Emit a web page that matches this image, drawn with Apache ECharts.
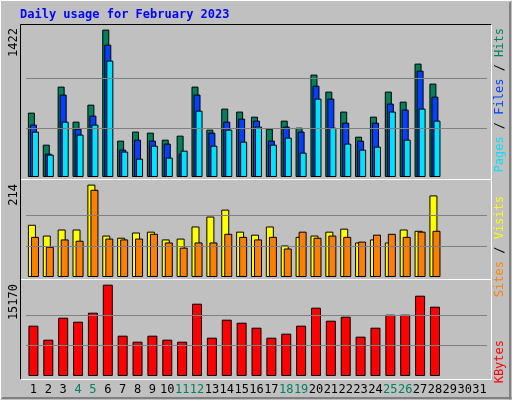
<!DOCTYPE html>
<html><head><meta charset="utf-8">
<script src="https://cdn.jsdelivr.net/npm/echarts@6/dist/echarts.min.js"></script>
<style>html,body{margin:0;padding:0;background:#c0c0c0}#c{width:512px;height:400px}</style>
</head><body><div id="c"></div>
<script>
const days = Array.from({length:31},(_,i)=>String(i+1));
const weekendDays = ['4','5','11','12','18','19','25','26'];
const hits  = [621,312,872,534,698,1422,351,438,428,360,399,872,457,660,631,582,466,544,476,988,824,631,389,582,824,727,1094,901];
const files = [505,225,795,466,592,1277,264,360,351,322,225,795,428,534,563,544,351,486,438,881,756,524,351,524,708,650,1026,775];
const pages = [438,216,534,409,505,1123,245,177,302,187,254,640,302,457,341,486,312,380,235,756,476,322,264,293,631,360,660,544];
const visits= [121,96,110,110,214,96,91,103,105,87,89,117,140,156,105,98,117,73,93,96,105,112,80,87,80,110,107,189];
const sites = [93,70,87,84,202,89,87,89,100,80,68,80,80,100,93,87,93,66,105,91,96,93,82,98,100,93,105,107];
const kbytes= [8360,6034,9688,9024,10518,15170,6699,5702,6699,6034,5702,12013,6366,9356,8858,8027,6366,7031,8360,11349,9190,9854,6532,8027,10186,10186,13342,11515];
const maxLabels = ['1422','214','15170'];

const mono = 'DejaVu Sans Mono';
const grids = [{top:25,height:152},{top:181,height:96},{top:281,height:95}];
const maxes = [1422*152/147.4, 214*96/92.4, 15170*95/91.3];
const peaks = [1422,214,15170];
const chart = echarts.init(document.getElementById('c'));
const xAxes = grids.map((g,i)=>({gridIndex:i,type:'category',data:days,
  axisLine:{show:false},axisTick:{show:false},
  axisLabel:{show:i===2,interval:0,margin:8,fontFamily:mono,fontSize:12,
    color:(v)=>weekendDays.includes(v)?'#00805c':'#000'}}));
const yAxes = grids.map((g,i)=>({gridIndex:i,type:'value',min:0,max:maxes[i],
  axisLabel:{show:false},splitLine:{show:false},axisLine:{show:false},axisTick:{show:false}}));
const ml = (i)=>({silent:true,symbol:'none',label:{show:false},
  lineStyle:{color:'#808080',type:'solid',width:1},
  data:[{yAxis:peaks[i]/3},{yAxis:peaks[i]*2/3}]});
const bs = {borderColor:'#000',borderWidth:1};
const series = [
 {type:'bar',xAxisIndex:0,yAxisIndex:0,data:hits,barWidth:7,barGap:'-71%',itemStyle:{color:'#00805c',...bs},markLine:ml(0),z:2},
 {type:'bar',xAxisIndex:0,yAxisIndex:0,data:files,barWidth:7,barGap:'-71%',itemStyle:{color:'#0040ff',...bs},z:3},
 {type:'bar',xAxisIndex:0,yAxisIndex:0,data:pages,barWidth:7,barGap:'-71%',itemStyle:{color:'#00e0ff',...bs},z:4},
 {type:'bar',xAxisIndex:1,yAxisIndex:1,data:visits,barWidth:8,barGap:'-62%',itemStyle:{color:'#ffff00',...bs},markLine:ml(1),z:2},
 {type:'bar',xAxisIndex:1,yAxisIndex:1,data:sites,barWidth:8,barGap:'-62%',itemStyle:{color:'#ff8000',...bs},z:3},
 {type:'bar',xAxisIndex:2,yAxisIndex:2,data:kbytes,barWidth:10,itemStyle:{color:'#ff0000',...bs},markLine:ml(2),z:2}
];
const line=(x1,y1,x2,y2,c)=>({type:'line',shape:{x1,y1,x2,y2},style:{stroke:c,lineWidth:1},silent:true,z:-1});
const graphic = [
 line(0.5,0.5,511.5,0.5,'#ffffff'),line(0.5,0.5,0.5,399.5,'#ffffff'),
 line(1.5,398.5,511.5,398.5,'#808080'),line(510.5,1.5,510.5,399.5,'#808080'),
 line(2.5,397.5,511.5,397.5,'#808080'),line(509.5,2.5,509.5,399.5,'#808080'),
 // panels
 line(20.5,24.5,491.5,24.5,'#000'),line(20.5,24.5,20.5,379.5,'#000'),
 line(491.5,24.5,491.5,379.5,'#fff'),line(20.5,379.5,491.5,379.5,'#fff'),
 line(21,179.5,491,179.5,'#fff'),line(21,279.5,491,279.5,'#fff'),
 {type:'text',left:20,top:9,style:{text:'Daily usage for February 2023',fill:'#0000ff',font:'bold 12px '+mono}},
 {type:'text',x:8,y:28,rotation:Math.PI/2,style:{text:maxLabels[0],fill:'#000',font:'12px '+mono,align:'right',verticalAlign:'top'}},
 {type:'text',x:8,y:184,rotation:Math.PI/2,style:{text:maxLabels[1],fill:'#000',font:'12px '+mono,align:'right',verticalAlign:'top'}},
 {type:'text',x:8,y:284,rotation:Math.PI/2,style:{text:maxLabels[2],fill:'#000',font:'12px '+mono,align:'right',verticalAlign:'top'}},
 {type:'text',x:494,y:28,rotation:Math.PI/2,style:{text:'{p|Pages} / {f|Files} / {h|Hits}',font:'12px '+mono,fill:'#000',align:'right',verticalAlign:'top',
   rich:{p:{fill:'#00e0ff',font:'12px '+mono},f:{fill:'#0040ff',font:'12px '+mono},h:{fill:'#00805c',font:'12px '+mono}}}},
 {type:'text',x:494,y:196,rotation:Math.PI/2,style:{text:'{s|Sites} / {v|Visits}',font:'12px '+mono,fill:'#000',align:'right',verticalAlign:'top',
   rich:{s:{fill:'#ff8000',font:'12px '+mono},v:{fill:'#ffff00',font:'12px '+mono}}}},
 {type:'text',x:494,y:340,rotation:Math.PI/2,style:{text:'KBytes',font:'12px '+mono,fill:'#ff0000',align:'right',verticalAlign:'top'}}
];
chart.setOption({
  backgroundColor:'#c0c0c0',animation:false,
  grid:grids.map(g=>({left:26,width:461,top:g.top,height:g.height})),
  xAxis:xAxes,yAxis:yAxes,series,graphic
});
</script></body></html>
